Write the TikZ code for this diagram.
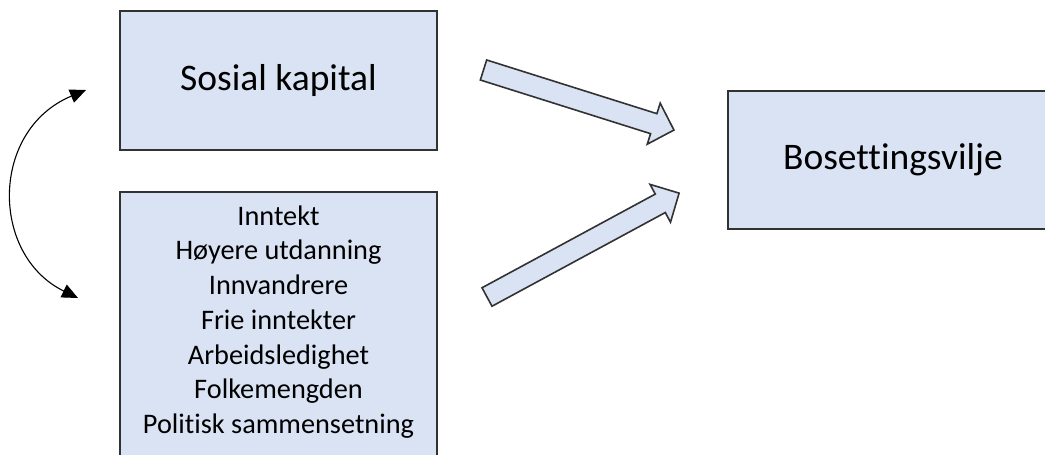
\documentclass[tikz,border=0pt]{standalone}
\usepackage{fontspec}
\setmainfont{Carlito}[Ligatures=NoCommon]
\usetikzlibrary{arrows.meta}
\definecolor{boxfill}{RGB}{218,227,243}
\definecolor{boxline}{RGB}{50,50,50}
\tikzset{
  box/.style={draw=boxline, fill=boxfill, line width=1.5pt, rectangle, inner sep=0pt},
  bigtext/.style={font=\fontsize{37.5}{45}\selectfont},
  listtext/.style={font=\fontsize{28.3}{34.7}\selectfont, align=center},
  blockarrow/.style={draw=boxline, fill=boxfill, line width=1.6pt, line join=miter},
  linkarrow/.style={line width=1.1pt, {Triangle[length=16pt,width=14pt]}-{Triangle[length=16pt,width=14pt]}}
}
\begin{document}
\begin{tikzpicture}[x=1pt,y=-1pt]
\useasboundingbox (0,0) rectangle (1045,455);
\clip (0,0) rectangle (1045,455);
\fill[white] (0,0) rectangle (1045,455);
% boxes
\node[box, bigtext, minimum width=317pt, minimum height=139pt] (sosial) at (278.5,80.5) {Sosial kapital};
\node[box, minimum width=317pt, minimum height=270pt] (faktorer) at (278.5,327) {};
\node[listtext] (liste) at (278.5,322) {Inntekt\\Høyere utdanning\\Innvandrere\\Frie inntekter\\Arbeidsledighet\\Folkemengden\\Politisk sammensetning};
\node[box, bigtext, minimum width=330pt, minimum height=138pt] (bosetting) at (893,160) {Bosettingsvilje};
% named end points
\coordinate (a1tail) at (483.5,70);
\coordinate (a2tail) at (487,297);
\coordinate (ctop) at (86,90);
\coordinate (cbot) at (78,298);
% block arrows
\begin{scope}[shift={(a1tail)}, rotate=-17.5]
  \draw[blockarrow] (0,-10.5) -- (178.5,-10.5) -- (178.5,-21.5) -- (199.7,0) -- (178.5,21.5) -- (178.5,10.5) -- (0,10.5) -- cycle;
\end{scope}
\begin{scope}[shift={(a2tail)}, rotate=28.4]
  \draw[blockarrow] (0,-10.5) -- (197,-10.5) -- (197,-21.5) -- (218.4,0) -- (197,21.5) -- (197,10.5) -- (0,10.5) -- cycle;
\end{scope}
% curved double arrow
\draw[linkarrow] (ctop) .. controls (-10,130) and (-10,255) .. (cbot);
\end{tikzpicture}
\end{document}
